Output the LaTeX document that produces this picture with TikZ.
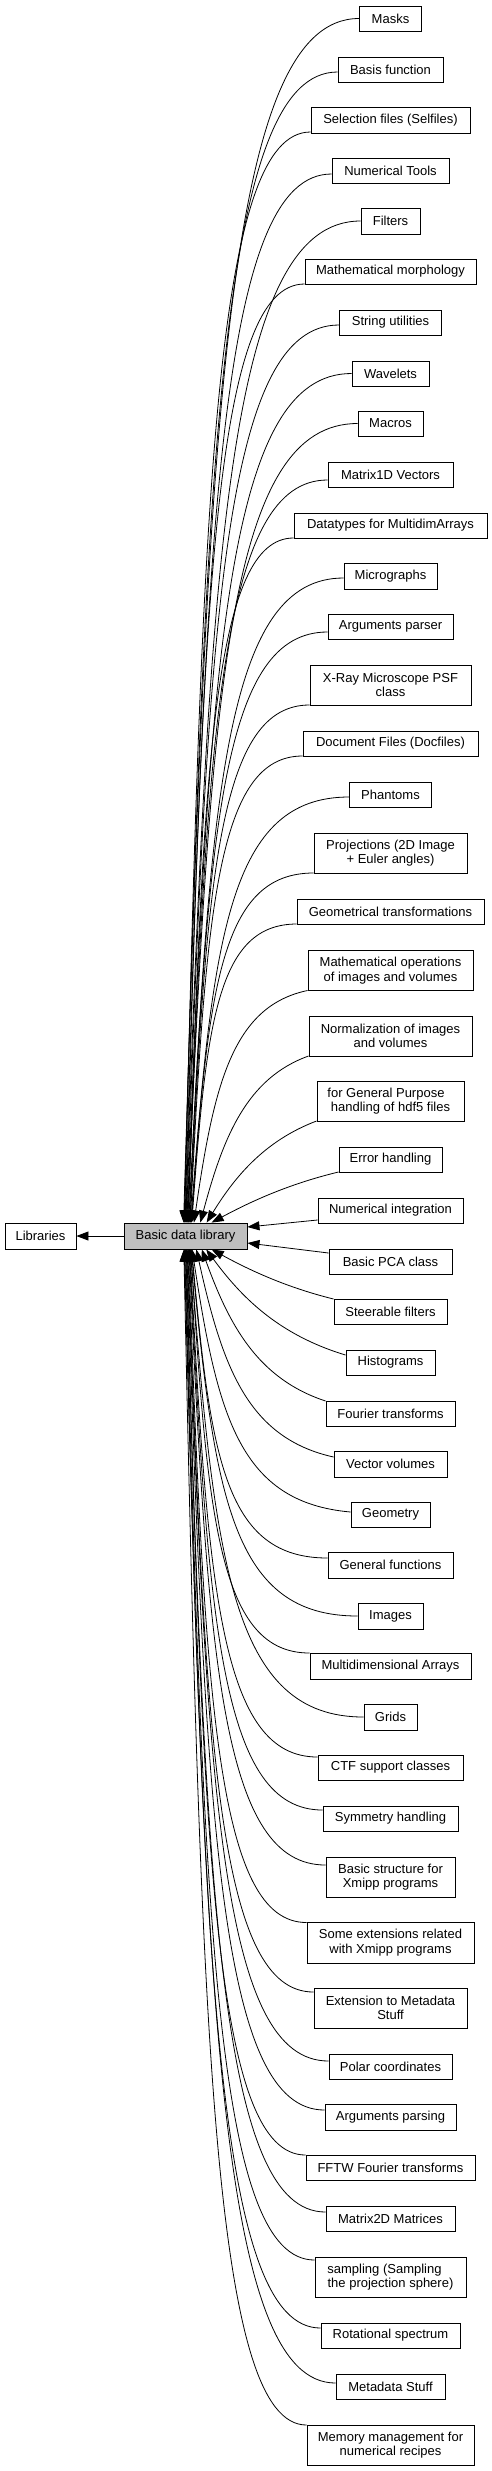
\documentclass[tikz,border=0pt]{standalone}
\usepackage{fontspec}
\setmainfont{Liberation Sans}
\usetikzlibrary{arrows.meta,calc}
\definecolor{basicgray}{HTML}{BFBFBF}
\begin{document}
\begin{tikzpicture}[x=1pt,y=-1pt,
  box/.style={draw=black,line width=0.9pt,fill=white,inner sep=0pt,align=center,
    font=\fontsize{13pt}{14.5pt}\selectfont},
  edge/.style={line width=0.8pt,draw=black,-{Triangle[length=12pt,width=9pt]}}]
\useasboundingbox (0,0) rectangle (492,2471);
\node[box,minimum width=71pt,minimum height=26pt] (libraries) at (40.5,1236) {Libraries};
\node[box,fill=basicgray,minimum width=123pt,minimum height=26pt] (basic) at (185.5,1236) {Basic data library};
\draw[edge] (basic.west) -- (libraries.east);
\node[box,minimum width=145pt,minimum height=25pt] (numint) at (390.5,1210.5) {Numerical integration};
\node[box,minimum width=123pt,minimum height=25pt] (pca) at (390.5,1261.5) {Basic PCA class};
\draw[edge] ($(numint.west)+(0,9.5)$) -- ($(basic.east)+(0,-9)$);
\draw[edge] ($(pca.west)+(0,-8.5)$) -- ($(basic.east)+(0,7)$);
\foreach \nm/\lab/\cy/\bw/\bh/\sh in {
masks/{Masks}/18.5/62/25/0,
basis/{Basis function}/69.5/105/25/2.5,
selfiles/{Selection files (Selfiles)}/120/159/26/12,
numtools/{Numerical Tools}/170.5/117/25/3.5,
filters/{Filters}/221/59/26/0,
morph/{Mathematical morphology}/271.5/171/25/12.5,
strings/{String utilities}/322.5/102/25/2.5,
wavelets/{Wavelets}/373.5/77/25/0,
macros/{Macros}/423.5/65/25/0,
mvec/{Matrix1D Vectors}/474.5/125/25/5.5,
dtypes/{Datatypes for MultidimArrays}/525.5/193/25/12.5,
micro/{Micrographs}/576/93/26/2,
argparser/{Arguments parser}/626.5/125/25/5.5,
xray/{X-Ray Microscope PSF\\class}/685/161/40/20,
docfiles/{Document Files (Docfiles)}/743.5/175/25/12.5,
phantoms/{Phantoms}/794.5/82/25/2.5,
proj/{Projections (2D Image\\+ Euler angles)}/853/153/40/20,
geotrans/{Geometrical transformations}/911.5/187/25/12.5,
mathops/{Mathematical operations\\of images and volumes}/970.5/165/40/20,
normal/{Normalization of images\\and volumes}/1036/163/40/20,
hdf/{for General Purpose\hspace*{9pt}\\handling of hdf5 files}/1101/147/40/20,
errh/{Error handling}/1159.5/103/25/12.5,
steer/{Steerable filters}/1311.5/113/25/-12.5,
hist/{Histograms}/1362.5/89/25/-7.5,
fourier/{Fourier transforms}/1413.5/129/25/-12.5,
vecvol/{Vector volumes}/1464/113/26/-7,
geom/{Geometry}/1514.5/79/25/-2.5,
genfun/{General functions}/1565/125/26/-7,
images/{Images}/1616/65/26/0,
mdarr/{Multidimensional Arrays}/1666/161/26/-13,
grids/{Grids}/1717/53/26/0,
ctf/{CTF support classes}/1767.5/145/25/-10.5,
sym/{Symmetry handling}/1818.5/135/25/-8.5,
bstruct/{Basic structure for\\Xmipp programs}/1877/129/40/-12,
someext/{Some extensions related\\with Xmipp programs}/1942.5/167/41/-20,
extmeta/{Extension to Metadata\\Stuff}/2008/153/40/-16,
polar/{Polar coordinates}/2066.5/123/25/-5.5,
argparsing/{Arguments parsing}/2117/131/26/-7,
fftw/{FFTW Fourier transforms}/2167.5/169/25/-12.5,
mmat/{Matrix2D Matrices}/2218.5/129/25/-6.5,
sampling/{sampling (Sampling\hspace*{12pt}\\the projection sphere)}/2277/151/40/-17,
rotspec/{Rotational spectrum}/2335.5/139/25/-7.5,
metastuff/{Metadata Stuff}/2386.5/109/25/-3.5,
memory/{Memory management for\\numerical recipes}/2445/167/40/-20}{
  \node[box,minimum width=\bw pt,minimum height=\bh pt] (\nm) at (390.5,\cy) {\lab};
  \pgfmathsetmacro\xl{390.5-\bw/2}
  \pgfmathsetmacro\sy{\cy+\sh}
  \pgfmathtruncatemacro\istop{\sy<1236 ? 1 : 0}
  \pgfmathsetmacro\ey{\istop==1 ? 1223 : 1249}
  \pgfmathsetmacro\dd{abs(\ey-\sy)}
  \pgfmathsetmacro\eX{184+11*(1-\dd/1205)+22*max(0,1-\dd/250)}
  \pgfmathsetmacro\dX{\xl-\eX}
  \pgfmathsetmacro\wt{min(1,\dd/300)}
  \pgfmathsetmacro\dyE{\ey-\sy}
  \pgfmathsetmacro\cax{-(0.35+0.4*\wt)*\dX}
  \pgfmathsetmacro\cay{\sh+(1-\wt)*0.3*\dyE}
  \pgfmathsetmacro\cbx{\eX-124+(0.14*\wt+0.3*(1-\wt))*\dX}
  \pgfmathsetmacro\cby{-(0.68*\wt+0.3*(1-\wt))*\dyE}
  \pgfmathsetmacro\exr{\eX-124}
  \ifnum\istop=1 \def\anc{north west}\else\def\anc{south west}\fi
  \draw[edge] ($(\nm.west)+(0,\sh)$) .. controls ($(\nm.west)+(\cax,\cay)$) and ($(basic.\anc)+(\cbx,\cby)$) .. ($(basic.\anc)+(\exr,0)$);
}
\end{tikzpicture}
\end{document}
